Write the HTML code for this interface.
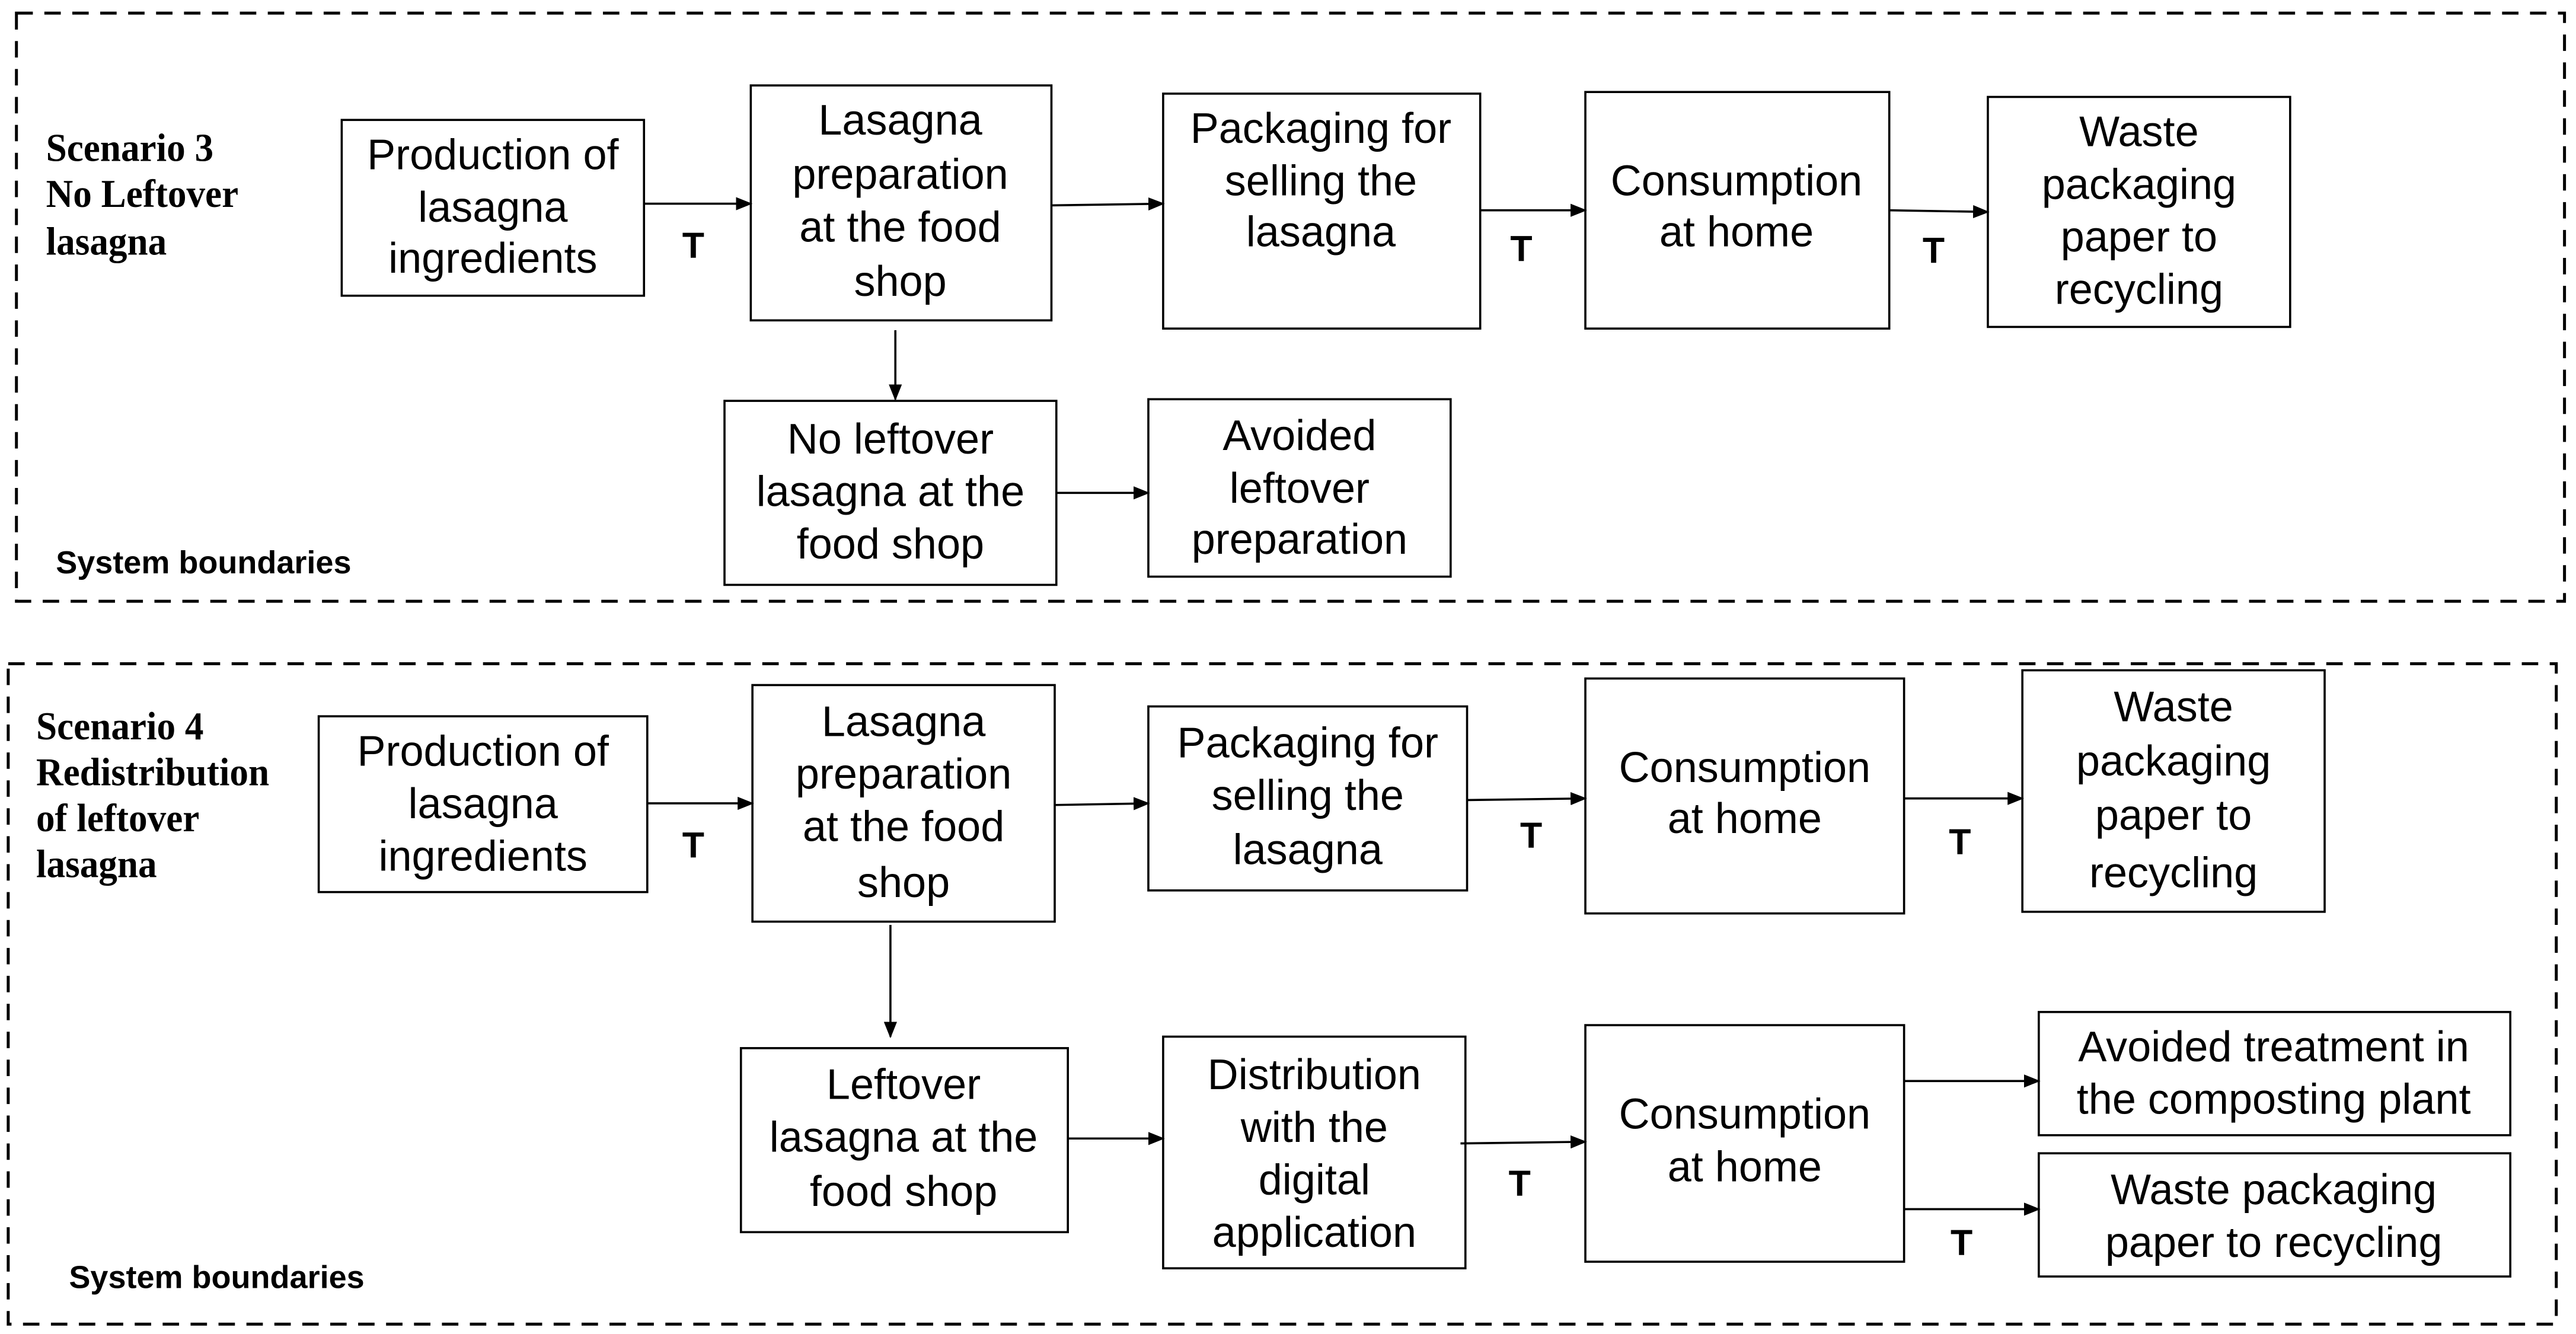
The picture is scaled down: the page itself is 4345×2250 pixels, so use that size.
<!DOCTYPE html>
<html><head><meta charset="utf-8"><style>
html,body{margin:0;padding:0;background:#fff;}
svg{display:block;}
.n{font-family:"Liberation Sans",Arial,sans-serif;font-size:26px;fill:#000;text-anchor:middle;}
.s{font-family:"Liberation Serif",serif;font-size:24px;font-weight:bold;fill:#000;}
.b{font-family:"Liberation Sans",sans-serif;font-size:19.5px;font-weight:bold;fill:#000;}
.t{font-family:"Liberation Sans",sans-serif;font-size:22px;font-weight:bold;fill:#000;text-anchor:middle;}
rect.bx{fill:#fff;stroke:#000;stroke-width:1.3;}
line.a{stroke:#000;stroke-width:1.3;marker-end:url(#ar);}
</style></head><body>
<svg width="4345" height="2250" viewBox="0 0 1568 812" preserveAspectRatio="none" xmlns="http://www.w3.org/2000/svg">
<defs><marker id="ar" markerWidth="10" markerHeight="8" refX="9" refY="4" orient="auto" markerUnits="userSpaceOnUse"><path d="M0,0 L10,4 L0,8 z" fill="#000"/></marker></defs>
<rect x="10" y="8" width="1551" height="358" fill="none" stroke="#000" stroke-width="1.8" stroke-dasharray="10,7"/>
<rect x="5" y="404" width="1551" height="402" fill="none" stroke="#000" stroke-width="1.8" stroke-dasharray="10,7"/>

<g transform="translate(28,0) scale(0.95,1)">
<text class="s" x="0" y="98">Scenario 3</text><text class="s" x="0" y="126">No Leftover</text><text class="s" x="0" y="155">lasagna</text>
</g>
<g transform="translate(22,0) scale(0.95,1)">
<text class="s" x="0" y="450">Scenario 4</text><text class="s" x="0" y="478">Redistribution</text><text class="s" x="0" y="506">of leftover</text><text class="s" x="0" y="534">lasagna</text>
</g>
<text class="b" x="34" y="349">System boundaries</text>
<text class="b" x="42" y="784">System boundaries</text>

<!-- Scenario 3 -->
<rect class="bx" x="208" y="73" width="184" height="107"/>
<rect class="bx" x="457" y="52" width="183" height="143"/>
<rect class="bx" x="708" y="57" width="193" height="143"/>
<rect class="bx" x="965" y="56" width="185" height="144"/>
<rect class="bx" x="1210" y="59" width="184" height="140"/>
<rect class="bx" x="441" y="244" width="202" height="112"/>
<rect class="bx" x="699" y="243" width="184" height="108"/>
<line class="a" x1="392" y1="124" x2="457" y2="124"/>
<line class="a" x1="640" y1="125" x2="708" y2="124"/>
<line class="a" x1="901" y1="128" x2="965" y2="128"/>
<line class="a" x1="1150" y1="128" x2="1210" y2="129"/>
<line class="a" x1="545" y1="201" x2="545" y2="243"/>
<line class="a" x1="643" y1="300" x2="699" y2="300"/>
<text class="t" x="422" y="157">T</text><text class="t" x="926" y="159">T</text><text class="t" x="1177" y="160">T</text>

<g class="n">
<g transform="translate(300,0)"><text x="0" y="103">Production of</text><text x="0" y="135">lasagna</text><text x="0" y="166">ingredients</text></g>
<g transform="translate(548,0)"><text x="0" y="82">Lasagna</text><text x="0" y="115">preparation</text><text x="0" y="147">at the food</text><text x="0" y="180">shop</text></g>
<g transform="translate(804,0)"><text x="0" y="87">Packaging for</text><text x="0" y="119">selling the</text><text x="0" y="150">lasagna</text></g>
<g transform="translate(1057,0)"><text x="0" y="119">Consumption</text><text x="0" y="150">at home</text></g>
<g transform="translate(1302,0)"><text x="0" y="89">Waste</text><text x="0" y="121">packaging</text><text x="0" y="153">paper to</text><text x="0" y="185">recycling</text></g>
<g transform="translate(542,0)"><text x="0" y="276">No leftover</text><text x="0" y="308">lasagna at the</text><text x="0" y="340">food shop</text></g>
<g transform="translate(791,0)"><text x="0" y="274">Avoided</text><text x="0" y="306">leftover</text><text x="0" y="337">preparation</text></g>
</g>

<!-- Scenario 4 -->
<rect class="bx" x="194" y="436" width="200" height="107"/>
<rect class="bx" x="458" y="417" width="184" height="144"/>
<rect class="bx" x="699" y="430" width="194" height="112"/>
<rect class="bx" x="965" y="413" width="194" height="143"/>
<rect class="bx" x="1231" y="408" width="184" height="147"/>
<rect class="bx" x="451" y="638" width="199" height="112"/>
<rect class="bx" x="708" y="631" width="184" height="141"/>
<rect class="bx" x="965" y="624" width="194" height="144"/>
<rect class="bx" x="1241" y="616" width="287" height="75"/>
<rect class="bx" x="1241" y="702" width="287" height="75"/>
<line class="a" x1="394" y1="489" x2="458" y2="489"/>
<line class="a" x1="642" y1="490" x2="699" y2="489"/>
<line class="a" x1="893" y1="487" x2="965" y2="486"/>
<line class="a" x1="1159" y1="486" x2="1231" y2="486"/>
<line class="a" x1="542" y1="563" x2="542" y2="631"/>
<line class="a" x1="650" y1="693" x2="708" y2="693"/>
<line class="a" x1="889" y1="696" x2="965" y2="695"/>
<line class="a" x1="1159" y1="658" x2="1241" y2="658"/>
<line class="a" x1="1159" y1="736" x2="1241" y2="736"/>
<text class="t" x="422" y="522">T</text><text class="t" x="932" y="516">T</text><text class="t" x="1193" y="520">T</text><text class="t" x="925" y="728">T</text><text class="t" x="1194" y="764">T</text>

<g class="n">
<g transform="translate(294,0)"><text x="0" y="466">Production of</text><text x="0" y="498">lasagna</text><text x="0" y="530">ingredients</text></g>
<g transform="translate(550,0)"><text x="0" y="448">Lasagna</text><text x="0" y="480">preparation</text><text x="0" y="512">at the food</text><text x="0" y="546">shop</text></g>
<g transform="translate(796,0)"><text x="0" y="461">Packaging for</text><text x="0" y="493">selling the</text><text x="0" y="526">lasagna</text></g>
<g transform="translate(1062,0)"><text x="0" y="476">Consumption</text><text x="0" y="507">at home</text></g>
<g transform="translate(1323,0)"><text x="0" y="439">Waste</text><text x="0" y="472">packaging</text><text x="0" y="505">paper to</text><text x="0" y="540">recycling</text></g>
<g transform="translate(550,0)"><text x="0" y="669">Leftover</text><text x="0" y="701">lasagna at the</text><text x="0" y="734">food shop</text></g>
<g transform="translate(800,0)"><text x="0" y="663">Distribution</text><text x="0" y="695">with the</text><text x="0" y="727">digital</text><text x="0" y="759">application</text></g>
<g transform="translate(1062,0)"><text x="0" y="687">Consumption</text><text x="0" y="719">at home</text></g>
<g transform="translate(1384,0)"><text x="0" y="646">Avoided treatment in</text><text x="0" y="678">the composting plant</text></g>
<g transform="translate(1384,0)"><text x="0" y="733">Waste packaging</text><text x="0" y="765">paper to recycling</text></g>
</g>
</svg>
</body></html>
